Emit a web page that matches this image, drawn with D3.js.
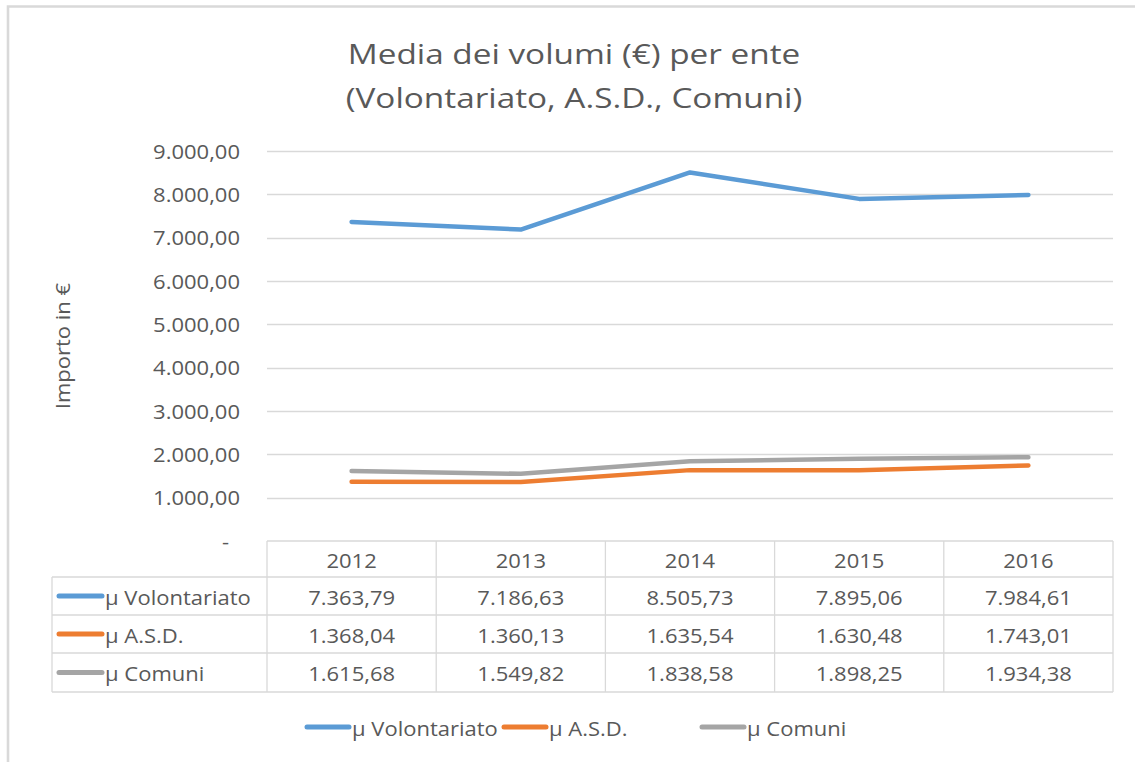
<!DOCTYPE html>
<html>
<head>
<meta charset="utf-8">
<script src="https://cdn.jsdelivr.net/npm/d3@7"></script>
<style>
  html, body { margin: 0; padding: 0; background: #ffffff; }
  svg { display: block; }
</style>
</head>
<body>
<svg id="chart" width="1135" height="762"></svg>
<script>
// ---- data ----
const years = ["2012", "2013", "2014", "2015", "2016"];
const seriesNames = ["µ Volontariato", "µ A.S.D.", "µ Comuni"];
const volontariato = [7363.79, 7186.63, 8505.73, 7895.06, 7984.61];
const asd = [1368.04, 1360.13, 1635.54, 1630.48, 1743.01];
const comuni = [1615.68, 1549.82, 1838.58, 1898.25, 1934.38];
const yTicks = [0, 1000, 2000, 3000, 4000, 5000, 6000, 7000, 8000, 9000];
const titleLines = ["Media dei volumi (€) per ente", "(Volontariato, A.S.D., Comuni)"];
const yAxisTitle = "Importo in €";
const colors = ["#5B9BD5", "#ED7D31", "#A5A5A5"];

const series = [volontariato, asd, comuni];

// ---- layout ----
const W = 1135, H = 762;
const FONT = "'Open Sans', 'Noto Sans', sans-serif";
const TXT = "#595959";
const GRID = "#D9D9D9";
const SX = 1.1;
const FS = 20;

const plot = { left: 267, right: 1113, top: 151, bottom: 541 };
const rowsY = [541, 577, 615, 653, 692];
const tableLeft = 52;

const svg = d3.select("#chart");

// thousands "." decimal ","
const itLocale = d3.formatLocale({ decimal: ",", thousands: ".", grouping: [3], currency: ["€", ""] });
const fmt = itLocale.format(",.2f");

function txt(g, x, y, s, opts = {}) {
  const t = g.append("text")
    .attr("transform", `translate(${x},${y})` + (opts.rot ? ` rotate(${opts.rot})` : "") + ` scale(${opts.sx || SX},1)`)
    .attr("text-anchor", opts.anchor || "middle")
    .attr("dominant-baseline", opts.baseline || "central")
    .attr("font-family", FONT)
    .attr("font-size", opts.size || FS)
    .attr("fill", opts.fill || TXT)
    .text(s);
  return t;
}

// border
svg.append("path")
  .attr("d", `M8,${H + 5} L8,6.5 L${W + 5},6.5`)
  .attr("fill", "none").attr("stroke", "#D9D9D9").attr("stroke-width", 2.6);

// scales
const x = d3.scaleBand().domain(years).range([plot.left, plot.right]);
const y = d3.scaleLinear().domain([0, 9000]).range([plot.bottom, plot.top]);

// title
titleLines.forEach((l, i) => {
  txt(svg, 574, 64 + i * 44, l, { size: 28, sx: 1.19, baseline: "alphabetic" });
});

// y axis title
txt(svg, 62, 346, yAxisTitle, { rot: -90 });

// gridlines
svg.append("g").selectAll("line")
  .data(yTicks.filter(d => d > 0))
  .join("line")
  .attr("x1", plot.left).attr("x2", plot.right)
  .attr("y1", d => Math.round(y(d)) + 0.5).attr("y2", d => Math.round(y(d)) + 0.5)
  .attr("stroke", GRID).attr("stroke-width", 1.3);

// y tick labels
const yl = svg.append("g");
yTicks.forEach(v => {
  if (v === 0) txt(yl, 229, y(v), "-", { anchor: "end" });
  else txt(yl, 240, y(v), fmt(v), { anchor: "end" });
});

// lines
const line = d3.line().x((d, i) => x(years[i]) + x.bandwidth() / 2).y(d => y(d));
svg.append("g").selectAll("path")
  .data(series)
  .join("path")
  .attr("d", d => line(d))
  .attr("fill", "none")
  .attr("stroke", (d, i) => colors[i])
  .attr("stroke-width", 4.5)
  .attr("stroke-linecap", "round")
  .attr("stroke-linejoin", "round");

// data table
const tg = svg.append("g");
const hline = (x1, x2, yy) => tg.append("line").attr("x1", x1).attr("x2", x2).attr("y1", yy).attr("y2", yy)
  .attr("stroke", GRID).attr("stroke-width", 1.3);
const vline = (xx, y1, y2) => tg.append("line").attr("x1", xx).attr("x2", xx).attr("y1", y1).attr("y2", y2)
  .attr("stroke", GRID).attr("stroke-width", 1.3);

hline(plot.left, plot.right, rowsY[0]);
for (let r = 1; r < rowsY.length; r++) hline(tableLeft, plot.right, rowsY[r]);
vline(tableLeft, rowsY[1], rowsY[4]);
years.forEach(yr => vline(x(yr), rowsY[0], rowsY[4]));
vline(plot.right, rowsY[0], rowsY[4]);

// header
years.forEach(yr => txt(tg, x(yr) + x.bandwidth() / 2, (rowsY[0] + rowsY[1]) / 2 + 1, yr));

// rows
series.forEach((s, si) => {
  const cy = (rowsY[si + 1] + rowsY[si + 2]) / 2 + 1;
  tg.append("line").attr("x1", 59).attr("x2", 102).attr("y1", cy - 1).attr("y2", cy - 1)
    .attr("stroke", colors[si]).attr("stroke-width", 5).attr("stroke-linecap", "round");
  txt(tg, 105, cy, seriesNames[si], { anchor: "start" });
  s.forEach((v, i) => txt(tg, x(years[i]) + x.bandwidth() / 2, cy, fmt(v)));
});

// legend
const lg = svg.append("g");
const legX = [305, 502, 700];
seriesNames.forEach((n, i) => {
  lg.append("line").attr("x1", legX[i] + 2).attr("x2", legX[i] + 44).attr("y1", 727).attr("y2", 727)
    .attr("stroke", colors[i]).attr("stroke-width", 5).attr("stroke-linecap", "round");
  txt(lg, legX[i] + 47, 728, n, { anchor: "start" });
});
</script>
</body>
</html>
